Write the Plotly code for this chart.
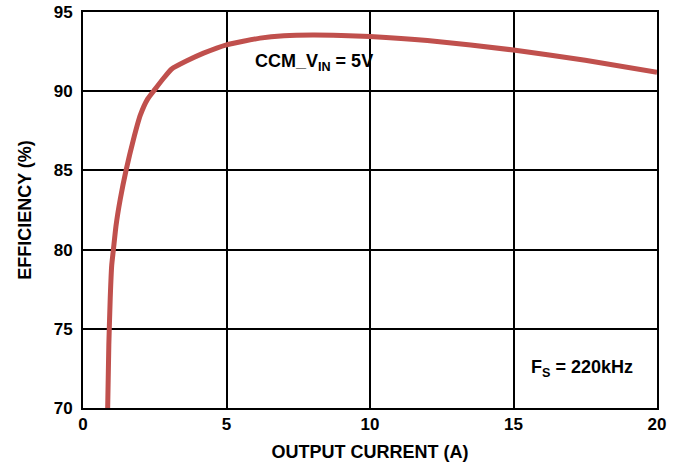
import plotly.graph_objects as go

current_a = [0.86, 0.9, 0.95, 1.0, 1.06, 1.15, 1.3, 1.5, 1.75, 2.0, 2.25, 2.5, 2.8, 3.09, 3.6, 4.2, 5, 6.17, 7, 8, 9, 10, 12, 15, 17.5, 20]
efficiency_pct = [70, 74, 77, 79, 80, 81.5, 83.2, 85, 86.9, 88.5, 89.5, 90.1, 90.8, 91.4, 91.9, 92.4, 92.93, 93.35, 93.5, 93.55, 93.52, 93.45, 93.2, 92.6, 91.95, 91.2]

x_ticks = [0, 5, 10, 15, 20]
y_ticks = [70, 75, 80, 85, 90, 95]

font = "Liberation Sans, Arial, sans-serif"

fig = go.Figure()
fig.add_trace(go.Scatter(x=current_a, y=efficiency_pct, mode="lines",
                         line=dict(color="#C0504D", width=5, shape="spline", smoothing=0.5),
                         showlegend=False, hoverinfo="skip"))

axis_common = dict(showgrid=True, gridcolor="black", gridwidth=2,
                   showline=True, linecolor="black", linewidth=2, mirror=True,
                   zeroline=False, ticks="", automargin=False,
                   ticklabeloverflow="allow",
                   tickfont=dict(family=font, size=17, color="black"))

fig.update_xaxes(range=[0, 20], tickvals=x_ticks, ticktext=[f"<b>{v}</b>" for v in x_ticks],
                 ticklabelstandoff=0, **axis_common,
                 title=dict(text="<b>OUTPUT CURRENT (A)</b>", font=dict(family=font, size=18, color="black"), standoff=12))
fig.update_yaxes(range=[70, 95], tickvals=y_ticks, ticktext=[f"<b>{v}</b>" for v in y_ticks],
                 ticklabelstandoff=5, **axis_common,
                 title=dict(text="<b>EFFICIENCY (%)</b>", font=dict(family=font, size=18, color="black"), standoff=17))

fig.add_annotation(x=8.05, y=91.8, xref="x", yref="y", showarrow=False,
                   text="<b>CCM_V<sub>IN</sub> = 5V</b>",
                   font=dict(family=font, size=18, color="black"))
fig.add_annotation(x=17.4, y=72.5, xref="x", yref="y", showarrow=False,
                   text="<b>F<sub>S</sub> = 220kHz</b>",
                   font=dict(family=font, size=18, color="black"))

fig.update_layout(width=682, height=468,
                  margin=dict(l=83, r=25, t=12, b=60),
                  plot_bgcolor="white", paper_bgcolor="white",
                  font=dict(family=font, color="black"))

fig.write_html("out.html", config={"displayModeBar": False},
               post_script="document.body.style.margin='0';")
